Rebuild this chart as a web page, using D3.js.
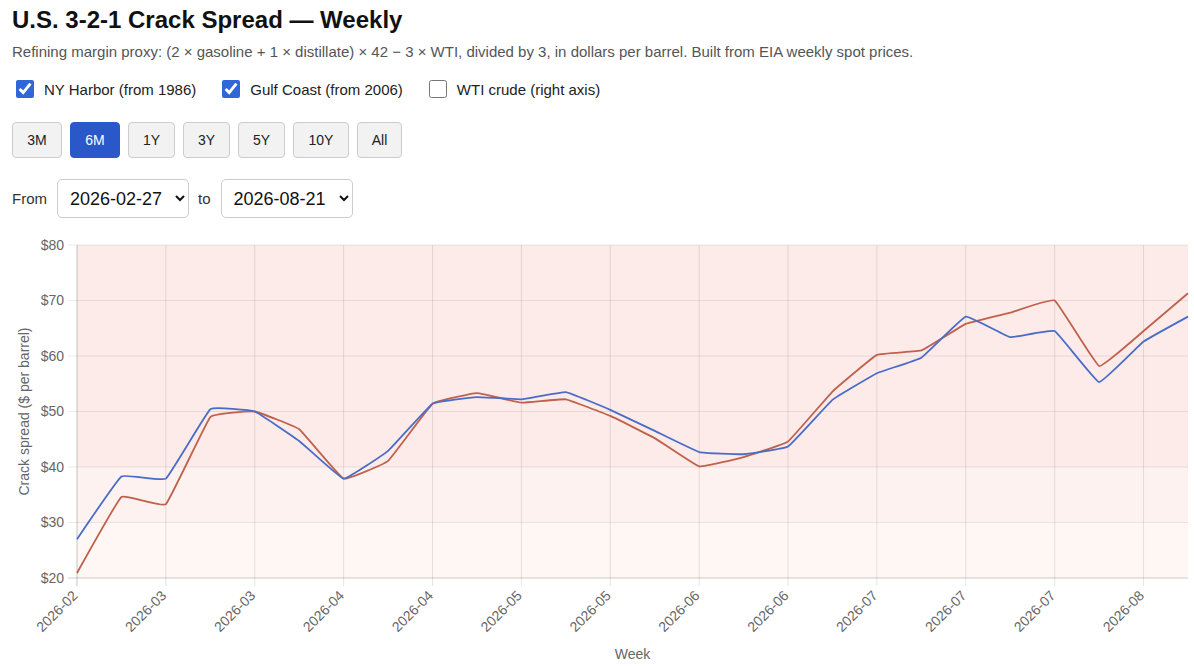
<!DOCTYPE html>
<html>
<head>
<meta charset="utf-8">
<script src="https://cdn.jsdelivr.net/npm/d3@7/dist/d3.min.js"></script>
<style>
  html, body { margin: 0; padding: 0; background: #fff; }
  body { font-family: "Liberation Sans", Arial, Helvetica, sans-serif; color: #111; width: 1194px; height: 666px; overflow: hidden; position: relative; }
  h1 { position: absolute; left: 12px; top: 6px; margin: 0; font-size: 24px; font-weight: bold; color: #111; }
  .sub { position: absolute; left: 12px; top: 43px; font-size: 15px; color: #555; }
  .checks { position: absolute; left: 12px; top: 80px; font-size: 15px; color: #222; display: flex; }
  .checks label { display: flex; align-items: center; margin-right: 22px; }
  .checks input { width: 18px; height: 18px; margin: 0 10px 0 4px; accent-color: #2f67d8; }
  .btns { position: absolute; left: 12px; top: 122px; display: flex; }
  .btns button { height: 36px; margin-right: 8px; border: 1px solid #ccc; border-radius: 4px; background: #f2f2f2; font-family: inherit; font-size: 14px; color: #222; padding: 0; }
  .btns button.on { background: #2a58c8; color: #fff; border-color: #2a58c8; }
  .range { position: absolute; left: 12px; top: 179px; display: flex; align-items: center; font-size: 15px; color: #333; }
  .range select { width: 132px; height: 39px; font-family: inherit; font-size: 18px; color: #111; border: 1px solid #ccc; border-radius: 5px; background: #fff; padding: 0 6px 0 8px; margin: 0 9px 0 10px; }
  svg { position: absolute; left: 0; top: 0; }
</style>
</head>
<body>
<h1>U.S. 3-2-1 Crack Spread — Weekly</h1>
<div class="sub">Refining margin proxy: (2 × gasoline + 1 × distillate) × 42 − 3 × WTI, divided by 3, in dollars per barrel. Built from EIA weekly spot prices.</div>
<div class="checks">
  <label><input type="checkbox" checked>NY Harbor (from 1986)</label>
  <label><input type="checkbox" checked>Gulf Coast (from 2006)</label>
  <label><input type="checkbox">WTI crude (right axis)</label>
</div>
<div class="btns" id="btns"></div>
<div class="range">From<select id="from"></select>to<select id="to"></select></div>
<svg id="chart" width="1194" height="666"></svg>
<script>
const weeks = ["2026-02-27","2026-03-06","2026-03-13","2026-03-20","2026-03-27","2026-04-03","2026-04-10","2026-04-17","2026-04-24","2026-05-01","2026-05-08","2026-05-15","2026-05-22","2026-05-29","2026-06-05","2026-06-12","2026-06-19","2026-06-26","2026-07-03","2026-07-10","2026-07-17","2026-07-24","2026-07-31","2026-08-07","2026-08-14","2026-08-21"];
const nyHarbor = [27.0,38.3,37.9,50.4,50.0,44.7,37.9,42.9,51.4,52.6,52.2,53.5,50.3,46.5,42.7,42.3,43.7,52.1,56.9,59.7,67.1,63.4,64.5,55.3,62.6,67.1];
const gulfCoast = [20.9,34.6,33.3,49.0,50.0,46.8,37.9,41.1,51.4,53.3,51.6,52.2,49.2,45.2,40.1,41.8,44.6,53.6,60.2,61.0,65.8,67.8,70.0,58.2,64.5,71.3];
const yTicks = [20,30,40,50,60,70,80];
const bands = [{lo:20,hi:30,color:"#fef7f3"},{lo:30,hi:40,color:"#fdf2f0"},{lo:40,hi:80,color:"#fcebe9"}];
const rangeButtons = ["3M","6M","1Y","3Y","5Y","10Y","All"];
const btnWidths = {"3M":50,"6M":50,"1Y":47,"3Y":47,"5Y":47,"10Y":56,"All":45};

d3.select("#btns").selectAll("button").data(rangeButtons).join("button")
  .text(d => d).classed("on", d => d === "6M").style("width", d => btnWidths[d] + "px");
d3.select("#from").selectAll("option").data(weeks).join("option").text(d => d).property("selected", (d,i) => i === 0);
d3.select("#to").selectAll("option").data(weeks).join("option").text(d => d).property("selected", (d,i) => i === weeks.length - 1);

const m = {left: 77, right: 1188, top: 245, bottom: 578};
const svg = d3.select("#chart");
const x = d3.scalePoint().domain(weeks).range([m.left, m.right]);
const y = d3.scaleLinear().domain([20, 80]).range([m.bottom, m.top]);

svg.append("g").selectAll("rect").data(bands).join("rect")
  .attr("x", m.left).attr("width", m.right - m.left)
  .attr("y", d => y(d.hi)).attr("height", d => y(d.lo) - y(d.hi))
  .attr("fill", d => d.color);

// horizontal grid
svg.append("g").selectAll("line").data(yTicks).join("line")
  .attr("x1", m.left - 9).attr("x2", m.right)
  .attr("y1", d => y(d)).attr("y2", d => y(d))
  .attr("stroke", "rgba(0,0,0,0.08)").attr("stroke-width", 1);

const labelIdx = weeks.map((d,i) => i).filter(i => i % 2 === 0);
// vertical grid
svg.append("g").selectAll("line").data(labelIdx).join("line")
  .attr("x1", i => x(weeks[i])).attr("x2", i => x(weeks[i]))
  .attr("y1", m.top).attr("y2", m.bottom + 8)
  .attr("stroke", "rgba(0,0,0,0.1)").attr("stroke-width", 1);

// axis lines
svg.append("line").attr("x1", m.left).attr("x2", m.left).attr("y1", m.top).attr("y2", m.bottom + 8).attr("stroke", "rgba(0,0,0,0.12)");
svg.append("line").attr("x1", m.left - 9).attr("x2", m.right).attr("y1", m.bottom).attr("y2", m.bottom).attr("stroke", "rgba(0,0,0,0.12)");

// y tick labels
svg.append("g").selectAll("text").data(yTicks).join("text")
  .attr("x", m.left - 13).attr("y", d => y(d)).attr("dy", "0.35em")
  .attr("text-anchor", "end").attr("font-size", 14).attr("fill", "#666")
  .text(d => "$" + d);

// x tick labels
svg.append("g").selectAll("text").data(labelIdx).join("text")
  .attr("transform", i => `translate(${x(weeks[i]) - 2},${m.bottom + 15}) rotate(-45)`)
  .attr("text-anchor", "end").attr("dy", "0.35em").attr("font-size", 14).attr("fill", "#666")
  .text(i => weeks[i].slice(0, 7));

// axis titles
svg.append("text").attr("transform", `translate(29,${(m.top + m.bottom) / 2}) rotate(-90)`)
  .attr("text-anchor", "middle").attr("font-size", 14).attr("fill", "#666").text("Crack spread ($ per barrel)");
svg.append("text").attr("x", (m.left + m.right) / 2).attr("y", 659)
  .attr("text-anchor", "middle").attr("font-size", 14).attr("fill", "#666").text("Week");

const line = d3.line().x((d,i) => x(weeks[i])).y(d => y(d)).curve(d3.curveCardinal.tension(0.75));
svg.append("path").datum(gulfCoast).attr("d", line).attr("fill", "none").attr("stroke", "#c0614b").attr("stroke-width", 1.8);
svg.append("path").datum(nyHarbor).attr("d", line).attr("fill", "none").attr("stroke", "#4a6cc6").attr("stroke-width", 1.8);
</script>
</body>
</html>
